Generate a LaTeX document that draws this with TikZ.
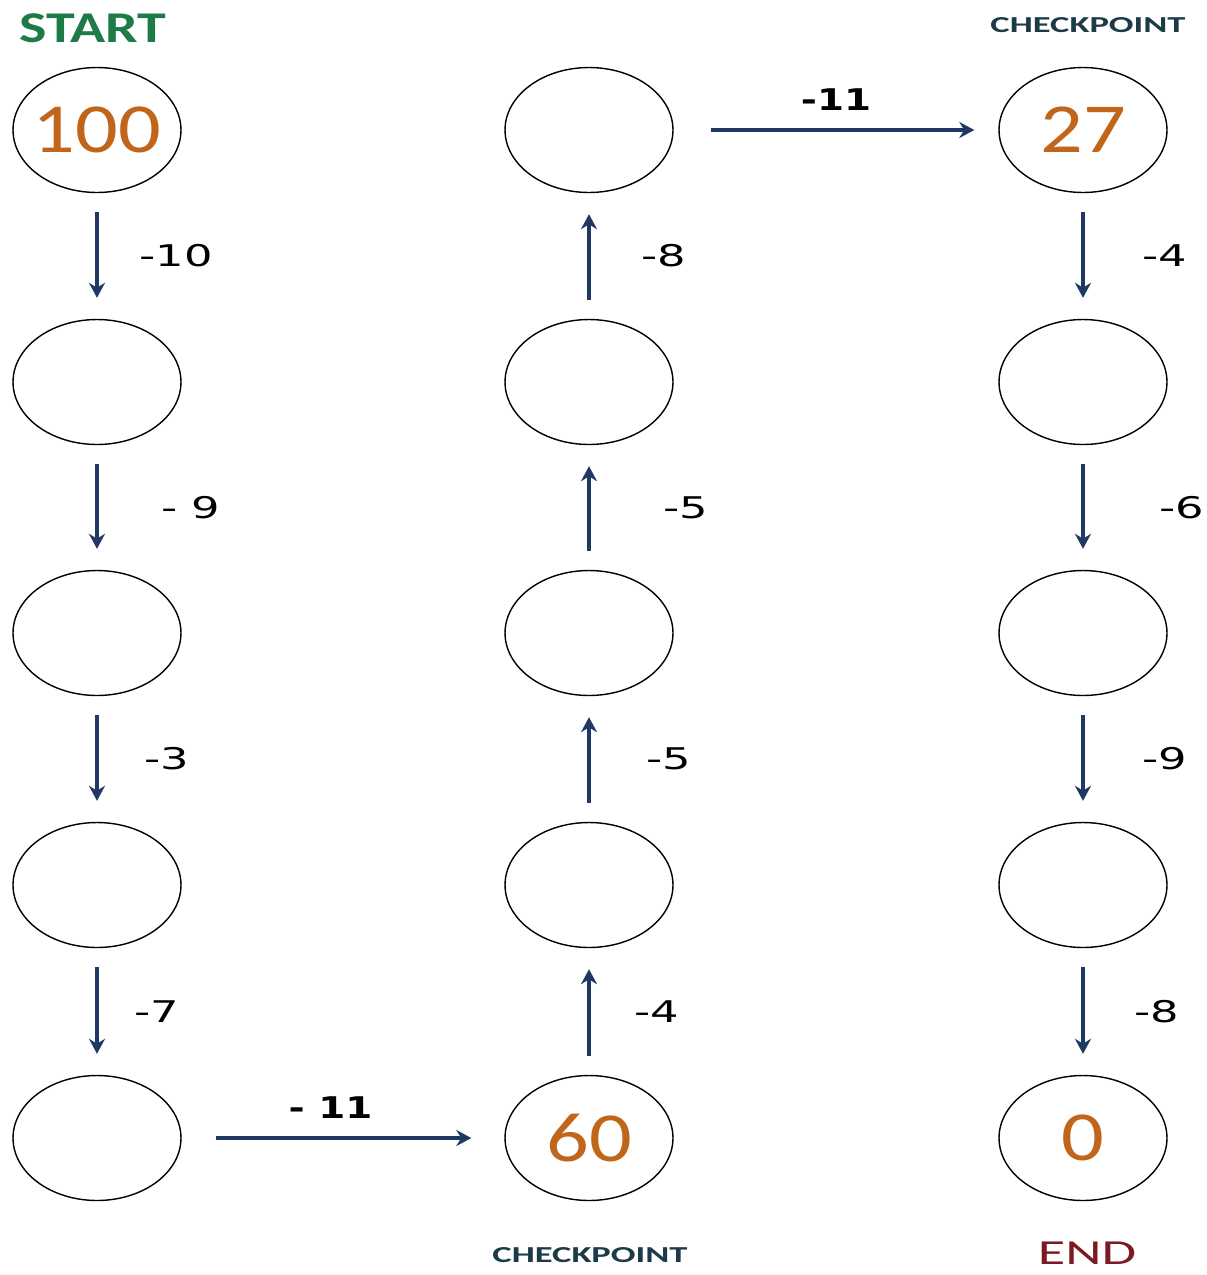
\documentclass[tikz,border=0pt]{standalone}
\usepackage{fontspec}
\setmainfont{Carlito}
\newfontfamily\numfont[FakeStretch=1.2]{Carlito}
\newfontfamily\headfont[FakeStretch=1.32]{Carlito}
\newfontfamily\tagfont[FakeStretch=1.6]{Carlito}
\newfontfamily\costfont[FakeStretch=1.5]{DejaVu Sans}
\newfontfamily\hopfont[FakeStretch=1.3]{DejaVu Sans}
\usetikzlibrary{positioning,arrows.meta,shapes.geometric}
\definecolor{rdgreen}{HTML}{1E7A46}
\definecolor{rdorange}{HTML}{C0651A}
\definecolor{rdnavy}{HTML}{1F3864}
\definecolor{rdteal}{HTML}{1C3A48}
\definecolor{rdred}{HTML}{7B1A22}
\tikzset{
  stop/.style  ={ellipse, draw=black, line width=0.8pt, minimum width=3.36cm,
                 minimum height=2.5cm, inner sep=0pt},
  num/.style   ={text=rdorange, inner sep=0pt, font=\numfont\fontsize{40}{40}\selectfont},
  hop/.style   ={-{Stealth[length=3mm,width=3.2mm]}, line width=1.8pt, draw=rdnavy,
                 shorten <=0.38cm, shorten >=0.42cm},
  cost/.style  ={font=\costfont\fontsize{17}{17}\selectfont, inner sep=0pt},
  bigcost/.style={font=\hopfont\bfseries\fontsize{17}{17}\selectfont, inner sep=0pt},
  tag/.style   ={font=\tagfont\bfseries\fontsize{13}{13}\selectfont, text=rdteal},
}
\begin{document}
\begin{tikzpicture}[x=0.02cm,y=-0.02cm]
      \useasboundingbox (0,0) rectangle (1207,1275);
      % the three columns of stops
      \foreach \r/\y/\ta/\tb/\tc in {1/130/100//27,2/382///,3/633///,4/885///,5/1138//60/0}{
        \node[stop, label={[num]center:\ta}] (a\r) at (97,\y) {};
        \node[stop, label={[num]center:\tb}] (b\r) at (589,\y) {};
        \node[stop, label={[num]center:\tc}] (c\r) at (1083,\y) {};}
      % titles
      \node[font=\headfont\bfseries\fontsize{25}{25}\selectfont, text=rdgreen] (start) at (93,28) {START};
      \node[tag] (chkt) at (1088,25) {CHECKPOINT};
      \node[tag] (chkb) at (590,1255) {CHECKPOINT};
      \node[font=\tagfont\fontsize{20}{20}\selectfont, text=rdred] (fin) at (1087,1253) {END};
      % downhill, first column
      \foreach \i/\j/\t/\d in {1/2/-10/41,2/3/- 9/63,3/4/-3/46,4/5/-7/36}
        \draw[hop] (a\i) -- node[cost, anchor=west, xshift=\d*0.02cm] {\t} (a\j);
      % uphill, middle column
      \foreach \i/\j/\t/\d in {5/4/-4/44,4/3/-5/56,3/2/-5/73,2/1/-8/51}
        \draw[hop] (b\i) -- node[cost, anchor=west, xshift=\d*0.02cm] {\t} (b\j);
      % downhill, last column
      \foreach \i/\j/\t/\d in {1/2/-4/58,2/3/-6/75,3/4/-9/58,4/5/-8/50}
        \draw[hop] (c\i) -- node[cost, anchor=west, xshift=\d*0.02cm] {\t} (c\j);
      % crossings
      \draw[hop, shorten <=0.68cm, shorten >=0.66cm] (a5) -- node[bigcost, above=0.35cm, xshift=-0.25cm] {- 11} (b5);
      \draw[hop, shorten <=0.74cm, shorten >=0.48cm] (b1) -- node[bigcost, above=0.35cm] {-11} (c1);
    \end{tikzpicture}
\end{document}
